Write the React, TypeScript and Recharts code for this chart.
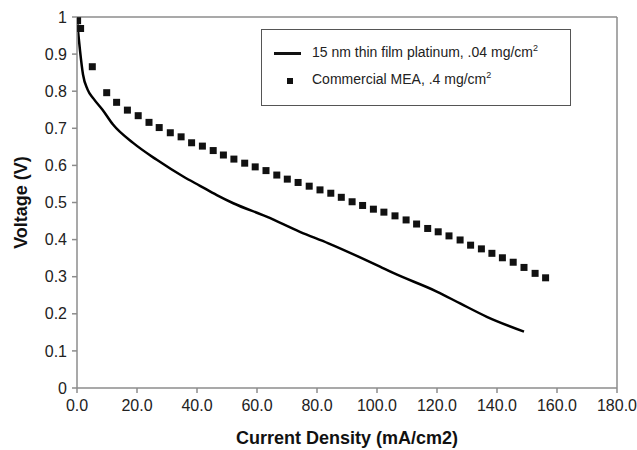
import { ComposedChart, Line, Scatter, XAxis, YAxis, ReferenceLine } from "recharts";

// thin film curve (current density mA/cm2, voltage V)
const filmX = [0, 0.5, 1, 2, 3.5, 5.5, 8.5, 12, 18.8, 26.6, 35.4, 41, 46.6, 52.1, 63.2, 74.3, 83.8, 101, 105.4, 119.9, 127.7, 136.6, 149];
const filmV = [0.99, 0.95, 0.91, 0.845, 0.805, 0.78, 0.75, 0.71, 0.66, 0.615, 0.57, 0.545, 0.52, 0.498, 0.462, 0.421, 0.39, 0.327, 0.31, 0.26, 0.228, 0.192, 0.152];

// commercial MEA squares
const meaX = [0.2, 1.2, 5.1, 9.9, 13.2, 16.8, 20.4, 24.0, 27.4, 31.1, 34.7, 38.2, 41.8, 45.4, 48.8, 52.3, 55.9, 59.4, 63.0, 66.6, 70.1, 73.7, 77.4, 81.0, 84.6, 88.1, 91.7, 95.2, 98.8, 102.3, 106.0, 109.7, 113.2, 116.9, 120.4, 124.0, 127.7, 131.2, 134.8, 138.3, 141.8, 145.4, 149.0, 152.7, 156.2];
const meaV = [0.99, 0.969, 0.866, 0.796, 0.77, 0.749, 0.734, 0.716, 0.702, 0.688, 0.677, 0.661, 0.652, 0.64, 0.628, 0.617, 0.606, 0.596, 0.586, 0.574, 0.563, 0.554, 0.544, 0.534, 0.525, 0.514, 0.502, 0.492, 0.482, 0.474, 0.464, 0.453, 0.442, 0.43, 0.421, 0.41, 0.399, 0.385, 0.375, 0.363, 0.351, 0.339, 0.325, 0.309, 0.297];

const xTicks = [0, 20, 40, 60, 80, 100, 120, 140, 160, 180];
const yTicks = [0, 0.1, 0.2, 0.3, 0.4, 0.5, 0.6, 0.7, 0.8, 0.9, 1];

const film = filmX.map((x, i) => ({ x, v: filmV[i] }));
const mea = meaX.map((x, i) => ({ x, v: meaV[i] }));

const FONT = "'Liberation Sans', Arial, sans-serif";
const AXIS = "#8c8c8c";

const SquareDot = (props: any) => {
  const { cx, cy } = props;
  if (cx == null || cy == null) return <g />;
  return <rect x={cx - 3.5} y={cy - 3.5} width={7} height={7} fill="#111" />;
};

const LegendBox = () => (
  <div
    style={{
      position: "absolute",
      left: 261,
      top: 29,
      width: 310,
      height: 77,
      border: "1.5px solid #555",
      background: "#fff",
      fontFamily: FONT,
      fontSize: 14,
      color: "#222",
      boxSizing: "border-box",
    }}
  >
    <div style={{ position: "absolute", left: 12, top: 22, width: 27, height: 3, background: "#111" }} />
    <div style={{ position: "absolute", left: 50, top: 13, whiteSpace: "nowrap" }}>
      15 nm thin film platinum, .04 mg/cm<sup style={{ fontSize: 9 }}>2</sup>
    </div>
    <div style={{ position: "absolute", left: 25, top: 48, width: 6, height: 6, background: "#111" }} />
    <div style={{ position: "absolute", left: 50, top: 40, whiteSpace: "nowrap" }}>
      Commercial MEA, .4 mg/cm<sup style={{ fontSize: 9 }}>2</sup>
    </div>
  </div>
);

export default function App() {
  return (
    <div style={{ position: "absolute", left: 0, top: 0, width: 637, height: 450, background: "#fff" }}>
      <ComposedChart width={637} height={450} margin={{ top: 17, right: 20, left: 7, bottom: 2 }}>
        <XAxis
          type="number"
          dataKey="x"
          domain={[0, 180]}
          ticks={xTicks}
          tickFormatter={(v: number) => v.toFixed(1)}
          stroke={AXIS}
          strokeWidth={1.5}
          tickSize={5}
          tickMargin={7}
          tick={{ fill: "#222", fontSize: 16, fontFamily: FONT }}
          height={60}
          allowDataOverflow
          label={{ value: "Current Density (mA/cm2)", position: "insideBottom", offset: 4, fill: "#111", fontSize: 18, fontWeight: "bold", fontFamily: FONT }}
        />
        <YAxis
          type="number"
          dataKey="v"
          domain={[0, 1]}
          ticks={yTicks}
          tickFormatter={(v: number) => String(Math.round(v * 10) / 10)}
          stroke={AXIS}
          strokeWidth={1.5}
          tickSize={5}
          tickMargin={5}
          tick={{ fill: "#222", fontSize: 16, fontFamily: FONT }}
          width={70}
          allowDataOverflow
          label={{ value: "Voltage (V)", angle: -90, position: "insideLeft", offset: 14, fill: "#111", fontSize: 18, fontWeight: "bold", fontFamily: FONT, style: { textAnchor: "middle" } }}
        />
        <ReferenceLine y={1} stroke={AXIS} strokeWidth={1.5} />
        <ReferenceLine x={180} stroke={AXIS} strokeWidth={1.5} />
        <Line
          data={film}
          dataKey="v"
          type="monotone"
          stroke="#000"
          strokeWidth={2.5}
          dot={false}
          activeDot={false}
          isAnimationActive={false}
        />
        <Scatter data={mea} dataKey="v" shape={SquareDot} isAnimationActive={false} />
      </ComposedChart>
      <LegendBox />
    </div>
  );
}
